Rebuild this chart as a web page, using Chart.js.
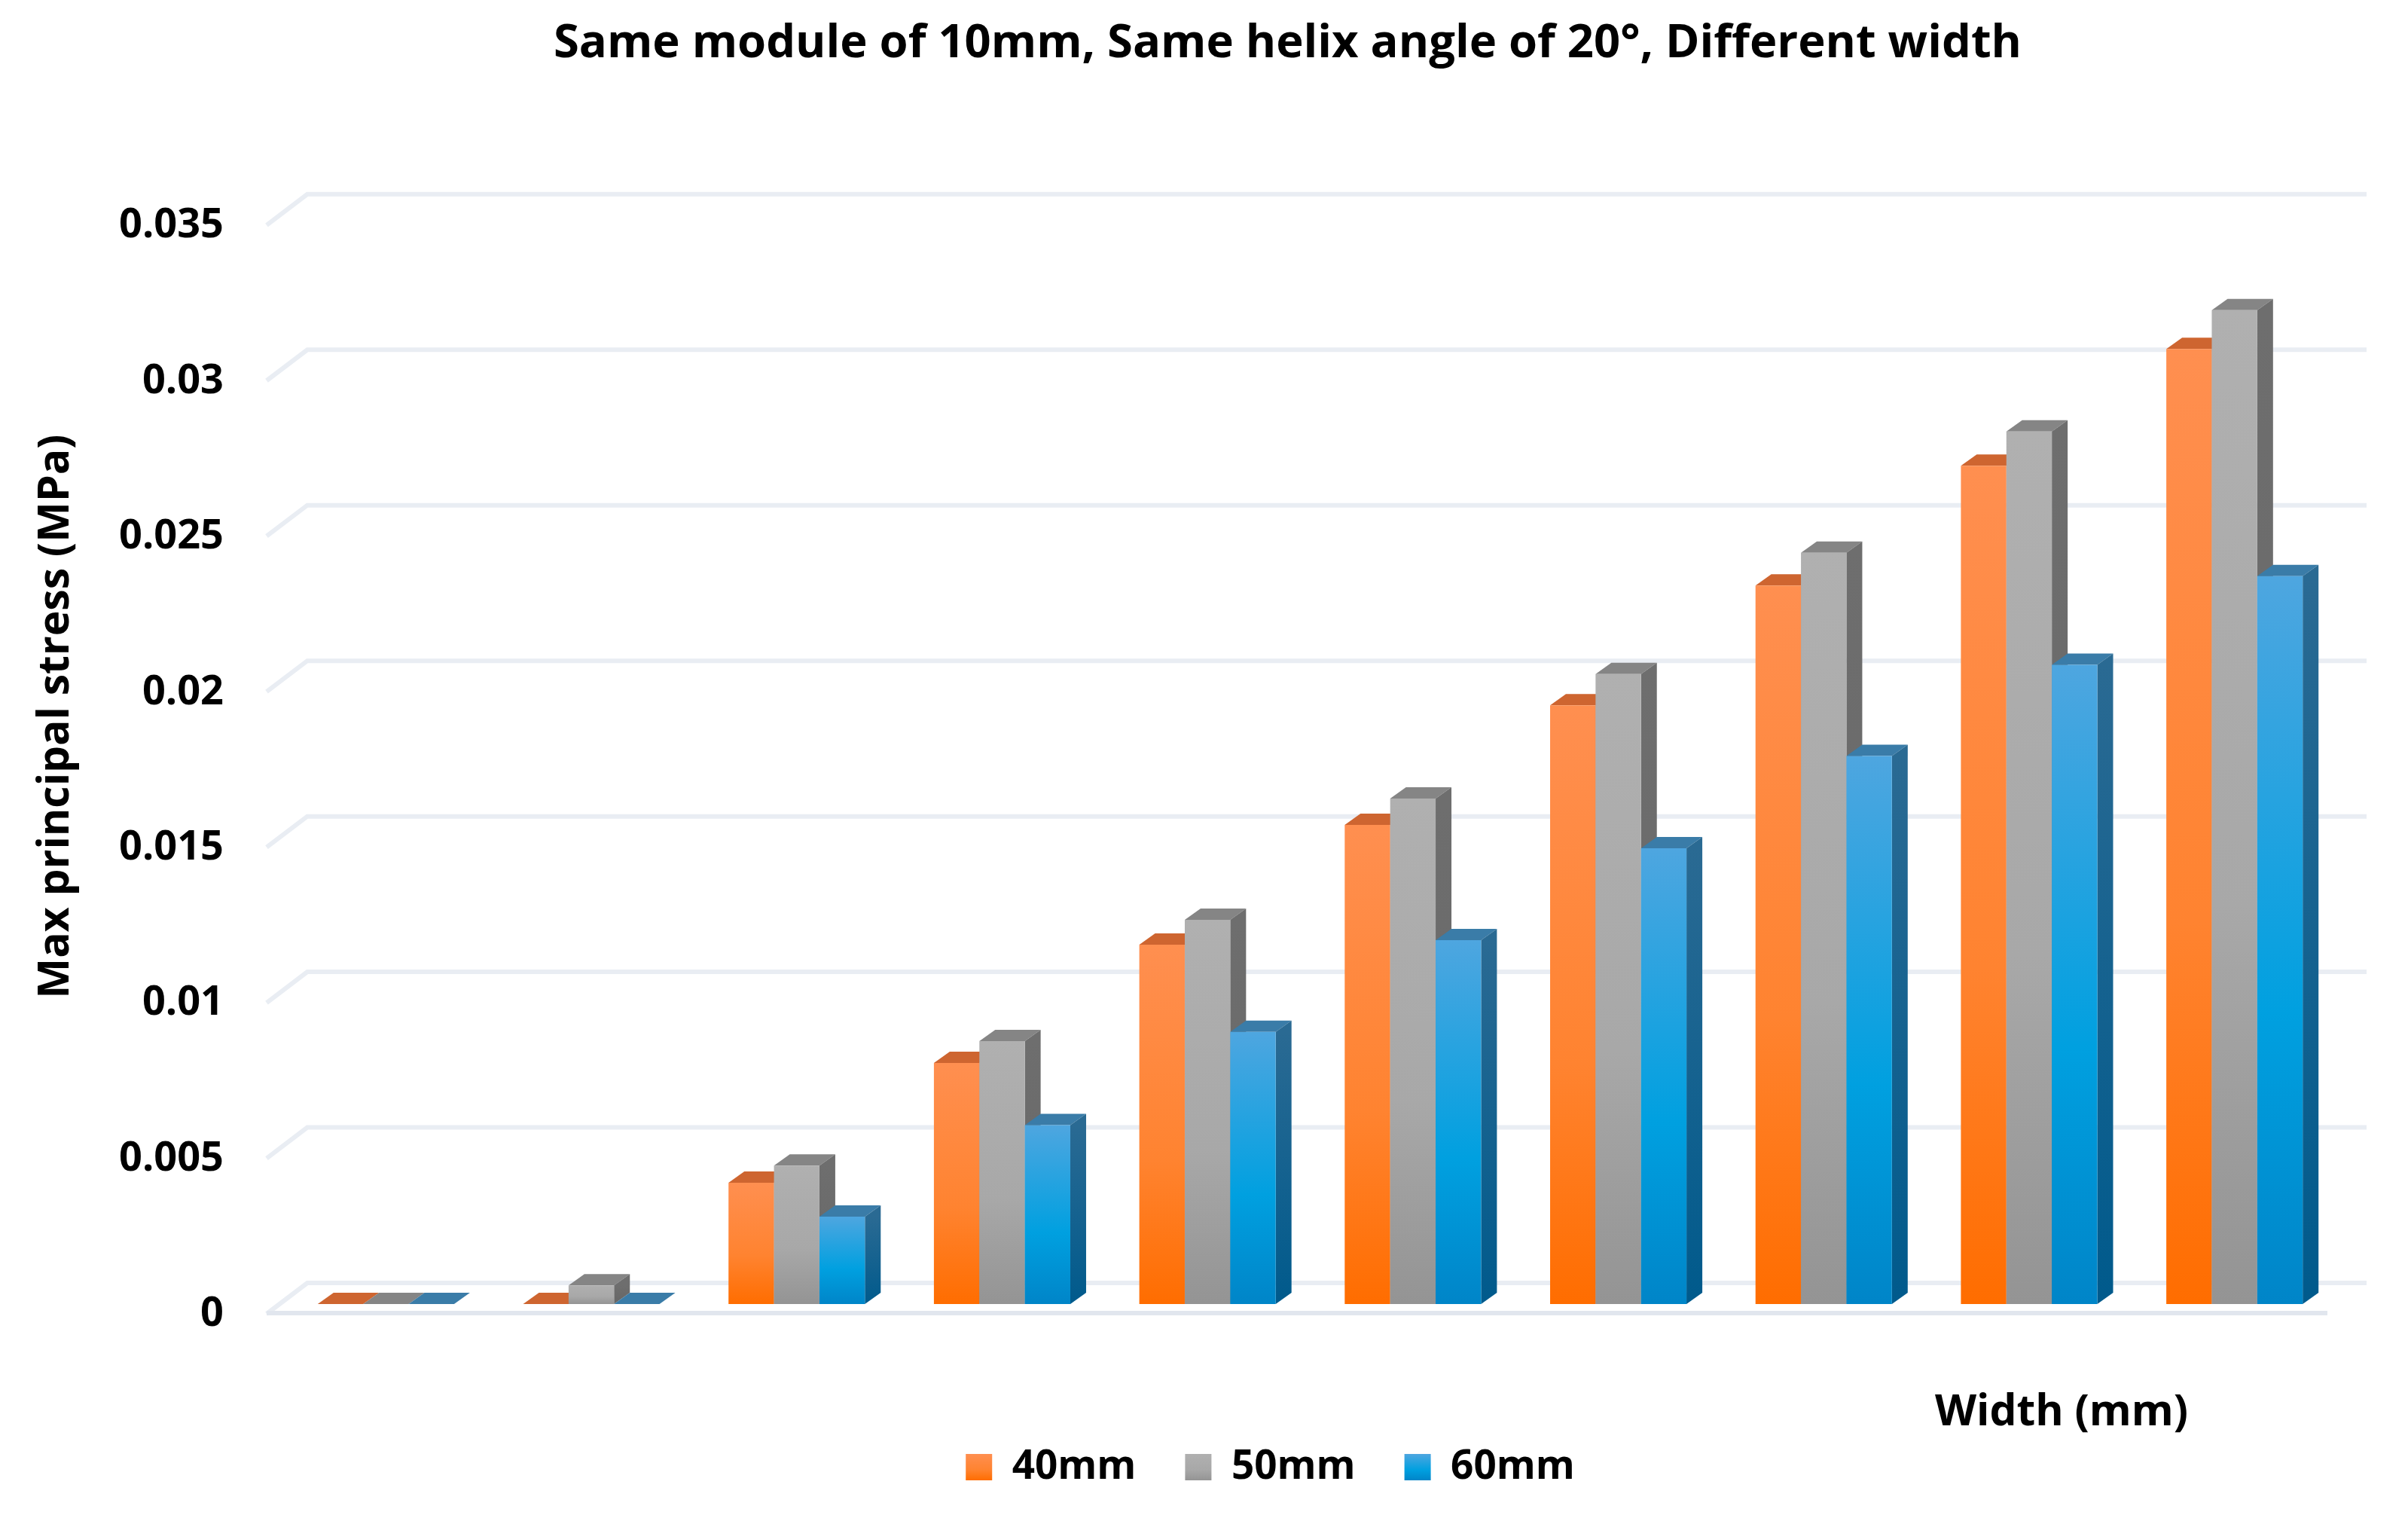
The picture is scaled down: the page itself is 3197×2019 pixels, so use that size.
<!DOCTYPE html>
<html>
<head>
<meta charset="utf-8">
<title>Max principal stress</title>
<script src="https://cdn.jsdelivr.net/npm/chart.js@4"></script>
<style>
  html, body { margin: 0; padding: 0; background: #fff; }
  canvas { display: block; }
</style>
</head>
<body>
<canvas id="stressChart" width="3197" height="2019"></canvas>
<script>
const categories = ["1", "2", "3", "4", "5", "6", "7", "8", "9", "10"];
const seriesNames = ["40mm", "50mm", "60mm"];
const width40 = [0, 0, 0.0039, 0.00775, 0.01155, 0.0154, 0.01925, 0.0231, 0.02695, 0.0307];
const width50 = [0, 0.0006, 0.00445, 0.00845, 0.01235, 0.01625, 0.02025, 0.02415, 0.02805, 0.03195];
const width60 = [0, 0, 0.00281, 0.00575, 0.00875, 0.0117, 0.01465, 0.01762, 0.02055, 0.0234];
const yTickLabels = ["0", "0.005", "0.01", "0.015", "0.02", "0.025", "0.03", "0.035"];

const titleText = "Same module of 10mm, Same helix angle of 20°, Different width";
const yTitleText = "Max principal stress (MPa)";
const xTitleText = "Width (mm)";

const fontFamily = "'Open Sans', sans-serif";

// colours of each face: front gradient stops, top face, side face top/bottom
const faces = [
  { front: ["#ff8f50", "#ff8330", "#ff6d00"], top: "#ce6530", side: ["#c05a20", "#c05a20"] },
  { front: ["#b0b0b0", "#a8a8a8", "#949494"], top: "#858585", side: ["#6e6e6e", "#666666"] },
  { front: ["#4ea6e0", "#00a0e0", "#0085c8"], top: "#3a7ca8", side: ["#2a6a93", "#005a8c"] },
];

const depthX = 21;
const depthY = 15;
const planeShift = 14; // bars sit a little above the tick label line
const wallShift = 42;

const frontGradient = (ctx, top, bottom, stops) => {
  const g = ctx.createLinearGradient(0, top, 0, bottom);
  g.addColorStop(0, stops[0]);
  g.addColorStop(0.6, stops[1]);
  g.addColorStop(1, stops[2]);
  return g;
};

const barColor = (seriesIndex) => (context) => {
  const stops = faces[seriesIndex].front;
  if (context.type !== "data") return stops[1];
  const yScale = context.chart.scales.y;
  const top = yScale.getPixelForValue(context.raw);
  const bottom = yScale.getPixelForValue(0);
  // options also get resolved before the first layout, no pixels yet
  if (!isFinite(top) || !isFinite(bottom)) return stops[1];
  return frontGradient(context.chart.ctx, top, bottom, stops);
};

const drawWalls = (chart) => {
  const { ctx, chartArea, scales } = chart;
  const backLeft = chartArea.left + 32;
  const backRight = chartArea.right + 39;
  const frontLeft = chartArea.left - 22;
  const frontRight = chartArea.right - 13;
  ctx.save();
  ctx.lineWidth = 6;
  ctx.strokeStyle = "#e9edf3";
  scales.y.ticks.forEach((tick) => {
    const y = scales.y.getPixelForValue(tick.value);
    ctx.beginPath();
    ctx.moveTo(frontLeft, y - 1);
    ctx.lineTo(backLeft, y - wallShift);
    ctx.lineTo(backRight, y - wallShift);
    ctx.stroke();
  });
  const zero = scales.y.getPixelForValue(0);
  ctx.strokeStyle = "#e1e6ee";
  ctx.beginPath();
  ctx.moveTo(frontLeft, zero - 2);
  ctx.lineTo(frontRight, zero - 2);
  ctx.stroke();
  ctx.restore();
};

const drawFaces = (chart, meta, seriesIndex) => {
  const { ctx } = chart;
  const style = faces[seriesIndex];
  meta.data.forEach((bar) => {
    const { x, y, base, width } = bar.getProps(["x", "y", "base", "width"], true);
    const right = x + width / 2;
    const left = x - width / 2;
    ctx.fillStyle = style.top;
    ctx.beginPath();
    ctx.moveTo(left, y);
    ctx.lineTo(right, y);
    ctx.lineTo(right + depthX, y - depthY);
    ctx.lineTo(left + depthX, y - depthY);
    ctx.closePath();
    ctx.fill();
    const side = ctx.createLinearGradient(0, y, 0, base);
    side.addColorStop(0, style.side[0]);
    side.addColorStop(1, style.side[1]);
    ctx.fillStyle = side;
    ctx.beginPath();
    ctx.moveTo(right, y);
    ctx.lineTo(right + depthX, y - depthY);
    ctx.lineTo(right + depthX, base - depthY);
    ctx.lineTo(right, base);
    ctx.closePath();
    ctx.fill();
  });
};

const boxes3d = {
  id: "boxes3d",
  afterLayout(chart) {
    // title, legend sit off the canvas centre in the reference
    chart.titleBlock.left += 158;
    chart.titleBlock.right += 158;
    const legend = chart.legend;
    legend.left += 135;
    legend.right += 135;
    legend.top = 1947 - 26 - legend.options.labels.padding;
    legend.bottom = chart.height;
  },
  // left-to-right painting so each box covers the side of the one before it
  beforeDatasetsDraw(chart) {
    const { ctx } = chart;
    drawWalls(chart);
    ctx.save();
    ctx.translate(0, -planeShift);
    chart.data.datasets.forEach((ds, i) => {
      const meta = chart.getDatasetMeta(i);
      drawFaces(chart, meta, i);
      meta.controller.draw();
    });
    ctx.restore();
    return false;
  },
  afterDraw(chart) {
    const { ctx } = chart;
    ctx.save();
    ctx.fillStyle = "#000";
    ctx.font = `700 57px ${fontFamily}`;
    ctx.textAlign = "center";
    ctx.textBaseline = "middle";
    ctx.fillText(xTitleText, 2737, 1876);
    ctx.translate(75, 951);
    ctx.rotate(-Math.PI / 2);
    ctx.fillText(yTitleText, 0, 0);
    ctx.restore();
  },
};

new Chart(document.getElementById("stressChart"), {
  type: "bar",
  data: {
    labels: categories,
    datasets: [
      { label: seriesNames[0], data: width40, backgroundColor: barColor(0) },
      { label: seriesNames[1], data: width50, backgroundColor: barColor(1) },
      { label: seriesNames[2], data: width60, backgroundColor: barColor(2) },
    ],
  },
  options: {
    responsive: false,
    animation: false,
    devicePixelRatio: 1,
    layout: { padding: { right: 94 } },
    datasets: { bar: { categoryPercentage: 0.664, barPercentage: 1, borderWidth: 0 } },
    scales: {
      x: {
        grid: { display: false },
        border: { display: false },
        ticks: { display: false },
        afterFit: (scale) => { scale.height = 174; },
      },
      y: {
        min: 0,
        max: 0.035,
        grid: { display: false, drawTicks: false },
        border: { display: false },
        ticks: {
          stepSize: 0.005,
          padding: 79,
          color: "#000",
          font: { family: fontFamily, size: 54, weight: "700" },
          callback: (value, index) => yTickLabels[index],
        },
        afterFit: (scale) => { scale.width = 376; },
      },
    },
    plugins: {
      tooltip: { enabled: false },
      title: {
        display: true,
        text: titleText,
        color: "#000",
        font: { family: fontFamily, size: 61.5, weight: "700" },
        padding: { top: 22, bottom: 204 },
      },
      legend: {
        position: "bottom",
        maxHeight: 100,
        labels: {
          color: "#000",
          boxWidth: 35,
          boxHeight: 35,
          padding: 65,
          font: { family: fontFamily, size: 53, weight: "700" },
          generateLabels: (chart) =>
            Chart.defaults.plugins.legend.labels.generateLabels(chart).map((item, i) => ({
              ...item,
              lineWidth: 0,
              fillStyle: frontGradient(chart.ctx, 1930, 1965, faces[i].front),
            })),
        },
      },
    },
  },
  plugins: [boxes3d],
});
</script>
</body>
</html>
